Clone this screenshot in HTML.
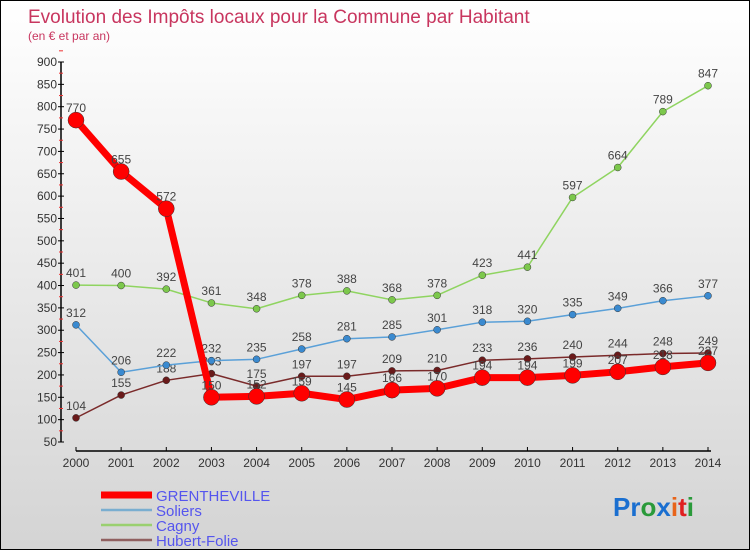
<!DOCTYPE html>
<html><head><meta charset="utf-8"><style>
body{margin:0;}
#c{width:750px;height:550px;position:relative;box-sizing:border-box;border:1px solid #000;background:linear-gradient(#fff 0%,#eee 40%,#d4d4d4 100%);font-family:"Liberation Sans",sans-serif;overflow:hidden}
svg text{font-family:"Liberation Sans",sans-serif}
</style></head><body>
<div id="c">
<svg id="s" width="750" height="550">
<text x="27" y="22" font-size="19" fill="#c8365f">Evolution des Impôts locaux pour la Commune par Habitant</text>
<text x="27" y="39" font-size="12" fill="#c8365f">(en € et par an)</text>
<g id="axes"></g><g id="series"></g>
<text x="612" y="515" font-size="26" font-weight="bold"><tspan fill="#1a6fd0">Pr</tspan><tspan fill="#2a9a3a">o</tspan><tspan fill="#1a6fd0">x</tspan><tspan fill="#e8641a">i</tspan><tspan fill="#e02020">t</tspan><tspan fill="#2a9a3a">i</tspan></text>
</svg>
</div>
<script>
const years=[2000,2001,2002,2003,2004,2005,2006,2007,2008,2009,2010,2011,2012,2013,2014];
const yTicks=[50,100,150,200,250,300,350,400,450,500,550,600,650,700,750,800,850,900];
const grentheville=[770,655,572,150,152,159,145,166,170,194,194,199,207,218,227];
const soliers=[312,206,222,232,235,258,281,285,301,318,320,335,349,366,377];
const cagny=[401,400,392,361,348,378,388,368,378,423,441,597,664,789,847];
const hubertFolie=[104,155,188,203,175,197,197,209,210,233,236,240,244,248,249];
const NS="http://www.w3.org/2000/svg";
function X(i){return 75+i*(707-75)/(years.length-1);}
function Y(v){return 441-(v-50)*(441-61)/850;}
function mk(t,a,p){const e=document.createElementNS(NS,t);for(const k in a)e.setAttribute(k,a[k]);p.appendChild(e);return e;}
const ax=document.getElementById('axes'),se=document.getElementById('series');
let l=mk('line',{x1:60,y1:Y(900),x2:60,y2:Y(50),stroke:'#000','stroke-width':1.5},ax);


yTicks.forEach(v=>{
 let t=mk('line',{x1:57,x2:63,y1:Y(v),y2:Y(v),stroke:'#000'},ax);
 
 
 let m=mk('line',{x1:58,x2:62,y1:Y(v+25),y2:Y(v+25),stroke:'#e33'},ax);
 
 
 let tx=mk('text',{x:56,y:Y(v)+4,'text-anchor':'end','font-size':12,fill:'#333'},ax);tx.textContent=v;
 
 
});
l=mk('line',{x1:X(0),y1:450,x2:X(14)+3,y2:450,stroke:'#000','stroke-width':1.5},ax);


years.forEach((y,i)=>{
 let t=mk('line',{x1:X(i),x2:X(i),y1:446,y2:450,stroke:'#000'},ax);
 
 
 let tx=mk('text',{x:X(i),y:466,'text-anchor':'middle','font-size':12,fill:'#333'},ax);tx.textContent=y;
 
 
});
const series=[
 {n:'hubert-folie',d:hubertFolie,c:'#7a2a2a',w:1.5,r:3.5,f:'#6a1a1a',label:'Hubert-Folie'},
 {n:'cagny',d:cagny,c:'#8fd460',w:1.5,r:3.5,f:'#7cc84c',label:'Cagny'},
 {n:'soliers',d:soliers,c:'#5aa0d8',w:1.5,r:3.5,f:'#3a8ad0',label:'Soliers'},
 {n:'grentheville',d:grentheville,c:'#f00',w:7,r:8,f:'#f00',label:'GRENTHEVILLE'}];
series.forEach(s=>{
 let p=mk('polyline',{points:s.d.map((v,i)=>X(i)+','+Y(v)).join(' '),fill:'none',stroke:s.c,'stroke-width':s.w,'stroke-linejoin':'round'},se);
 
 
 s.d.forEach((v,i)=>{
  let c=mk('circle',{cx:X(i),cy:Y(v),r:s.r,fill:s.f,stroke:'#333','stroke-width':0.5},se);
  
  
  let t=mk('text',{x:X(i),y:Y(v)-8,'text-anchor':'middle','font-size':12,fill:'#444'},se);t.textContent=v;
  
  
 });
});
const leg=[['GRENTHEVILLE','#f00',7],['Soliers','#7aaed0',2.5],['Cagny','#9ad070',2.5],['Hubert-Folie','#906060',2.5]];
leg.forEach((e,i)=>{
 const y=494+i*15;
 let l=mk('line',{x1:100,x2:151,y1:y,y2:y,stroke:e[1],'stroke-width':e[2]},se);
 
 
 let t=mk('text',{x:155,y:y+6,'font-size':15,fill:'#5555ee'},se);t.textContent=e[0];
 
 
});
</script>
</body></html>
